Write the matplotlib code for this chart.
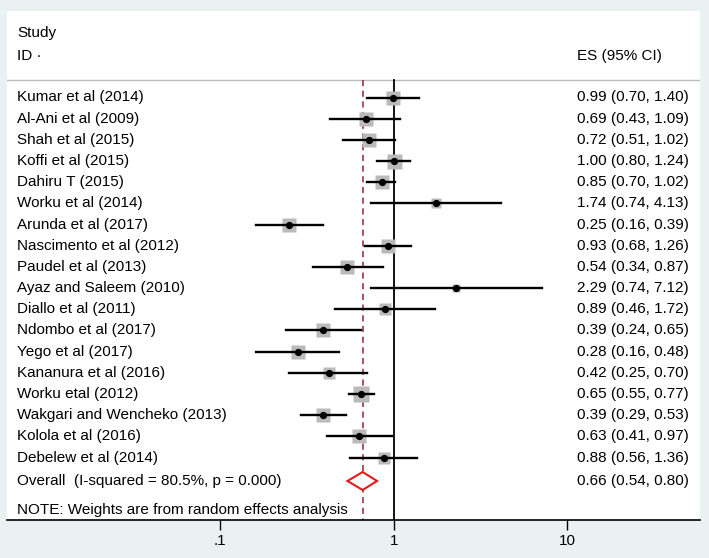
import matplotlib
matplotlib.use('Agg')
import matplotlib.pyplot as plt
import numpy as np

plt.rcParams['font.family'] = ['Liberation Sans', 'DejaVu Sans']

studies = [
    'Kumar et al (2014)', 'Al-Ani et al (2009)', 'Shah et al (2015)',
    'Koffi et al (2015)', 'Dahiru T (2015)', 'Worku et al (2014)',
    'Arunda et al (2017)', 'Nascimento et al (2012)', 'Paudel et al (2013)',
    'Ayaz and Saleem (2010)', 'Diallo et al (2011)', 'Ndombo et al (2017)',
    'Yego et al (2017)', 'Kananura et al (2016)', 'Worku etal (2012)',
    'Wakgari and Wencheko (2013)', 'Kolola et al (2016)', 'Debelew et al (2014)',
]
es = [0.99, 0.69, 0.72, 1.00, 0.85, 1.74, 0.25, 0.93, 0.54, 2.29,
      0.89, 0.39, 0.28, 0.42, 0.65, 0.39, 0.63, 0.88]
lo = [0.70, 0.43, 0.51, 0.80, 0.70, 0.74, 0.16, 0.68, 0.34, 0.74,
      0.46, 0.24, 0.16, 0.25, 0.55, 0.29, 0.41, 0.56]
hi = [1.40, 1.09, 1.02, 1.24, 1.02, 4.13, 0.39, 1.26, 0.87, 7.12,
      1.72, 0.65, 0.48, 0.70, 0.77, 0.53, 0.97, 1.36]
# relative weights (box side)
weights = [13, 12, 12.5, 13.5, 13, 8.5, 12, 13, 12, 7, 10.5, 12, 12, 11, 14, 13, 12, 11]

overall = (0.66, 0.54, 0.80)
overall_label = 'Overall  (I-squared = 80.5%, p = 0.000)'
note = 'NOTE: Weights are from random effects analysis'
xticks = [0.1, 1, 10]
xticklabels = ['.1', '1', '10']

W, H = 709, 558
fig = plt.figure(figsize=(W / 100, H / 100), dpi=100)
fig.patch.set_facecolor('#eaf1f3')
ax = fig.add_axes([7 / W, 38 / H, 693 / W, 509 / H])
ax.set_facecolor('white')

row_px = 21.18
top_px, bot_px, first_px = 11, 520, 97.5


def ry(px):
    return (px - first_px) / row_px


ax.set_xscale('log')
ax.set_xlim(10 ** -2.23, 10 ** 1.764)
ax.set_ylim(ry(bot_px), ry(top_px))

sep = ry(80)
ax.axhline(sep, color='#bbbbbb', lw=1)
ax.plot([1, 1], [sep, ry(bot_px)], color='black', lw=1.3, zorder=2)
ax.plot([overall[0], overall[0]], [sep, ry(bot_px)], color='#8e2433',
        lw=1.1, ls=(0, (4, 3)), zorder=2)

ys = np.arange(len(studies))
box_scale = 0.8
for y, e, l, h, w in zip(ys, es, lo, hi, weights):
    ax.plot(e, y, marker='s', ms=w * box_scale, color='#bababa', mec='none', zorder=3)
    ax.plot([l, h], [y, y], color='black', lw=1.7, zorder=4)
    ax.plot(e, y, marker='o', ms=4.2, color='black', zorder=5)

oy = ry(481)
dh = 9 / row_px
ax.fill([overall[1], overall[0], overall[2], overall[0], overall[1]],
        [oy, oy - dh, oy, oy + dh, oy],
        facecolor='white', edgecolor='#e31a1c', lw=1.5, zorder=5)

tr = ax.get_yaxis_transform()
fs = 11
lx = 10 / 693
ex = 570 / 693
ax.text(lx, ry(33.5), 'Study', transform=tr, fontsize=fs, va='center')
ax.text(lx, ry(56), 'ID \u00b7', transform=tr, fontsize=fs, va='center')
ax.text(ex, ry(56), 'ES (95% CI)', transform=tr, fontsize=fs, va='center')
for y, name, e, l, h in zip(ys, studies, es, lo, hi):
    ax.text(lx, y, name, transform=tr, fontsize=fs, va='center')
    ax.text(ex, y, '{:.2f} ({:.2f}, {:.2f})'.format(e, l, h),
            transform=tr, fontsize=fs, va='center')
ax.text(lx, oy, overall_label, transform=tr, fontsize=fs, va='center')
ax.text(ex, oy, '{:.2f} ({:.2f}, {:.2f})'.format(*overall),
        transform=tr, fontsize=fs, va='center')
ax.text(lx, ry(510), note, transform=tr, fontsize=fs, va='center')

for s in ['top', 'left', 'right']:
    ax.spines[s].set_visible(False)
ax.spines['bottom'].set_color('black')
ax.spines['bottom'].set_linewidth(1.2)
ax.set_yticks([])
ax.set_xticks(xticks)
ax.set_xticklabels(xticklabels, fontsize=fs)
ax.xaxis.set_minor_locator(matplotlib.ticker.NullLocator())
ax.tick_params(axis='x', length=7, width=1, color='black', pad=3)

fig.savefig('out.png', dpi=100, facecolor=fig.get_facecolor())
